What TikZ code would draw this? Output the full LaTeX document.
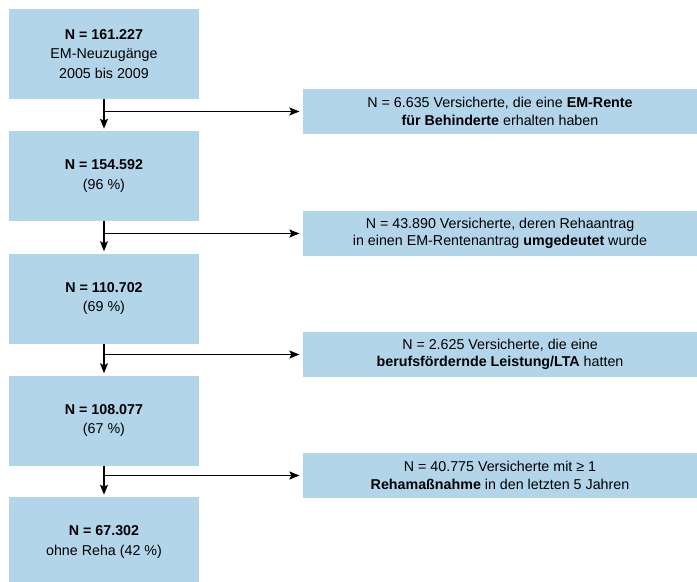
\documentclass[tikz,border=0pt]{standalone}
\usepackage{fontspec}
\setmainfont{Liberation Sans}
\usetikzlibrary{arrows.meta}
\definecolor{rehablau}{RGB}{179,213,234}
\begin{document}
\begin{tikzpicture}[x=0.75pt, y=-0.75pt,
	>={Stealth[length=7.5pt,width=6pt,inset=1.5pt]},
	box/.style={fill=rehablau, minimum width=142.5pt, minimum height=67.5pt, inner sep=0pt, align=center, font=\fontsize{10.7}{14.4}\selectfont},
	info/.style={fill=rehablau, minimum width=295.5pt, minimum height=33.75pt, inner sep=0pt, align=center, font=\fontsize{10.7}{13}\selectfont},
	pfeil/.style={->, line width=0.9pt, shorten >=1.5pt}]
	\useasboundingbox (0,0) rectangle (697,582);
	% linke Spalte
	\node[box] (n1) at (104,54) {\textbf{N = 161.227}\\EM-Neuzugänge\\2005 bis 2009};
	\node[box] (n2) at (104,176) {\textbf{N = 154.592}\\(96 \%)};
	\node[box] (n3) at (104,298.5) {\textbf{N = 110.702}\\(69 \%)};
	\node[box] (n4) at (104,420.5) {\textbf{N = 108.077}\\(67 \%)};
	\node[box] (n5) at (104,542) {\textbf{N = 67.302}\\ohne Reha (42 \%)};
	% rechte Spalte
	\node[info] (r1) at (500,111.5) {N = 6.635 Versicherte, die eine \textbf{EM-Rente}\\\textbf{für Behinderte} erhalten haben};
	\node[info] (r2) at (500,233.5) {N = 43.890 Versicherte, deren Rehaantrag\\in einen EM-Rentenantrag \textbf{umgedeutet} wurde};
	\node[info] (r3) at (500,354.5) {N = 2.625 Versicherte, die eine\\\textbf{berufsfördernde Leistung/LTA} hatten};
	\node[info] (r4) at (500,475.5) {N = 40.775 Versicherte mit ≥ 1\\\textbf{Rehamaßnahme} in den letzten 5 Jahren};
	% Pfeile
	\draw[pfeil] (n1) -- (n2);
	\draw[pfeil] (n2) -- (n3);
	\draw[pfeil] (n3) -- (n4);
	\draw[pfeil] (n4) -- (n5);
	\draw[pfeil, shorten >=2.5pt] (n1.south |- r1) -- (r1);
	\draw[pfeil, shorten >=2.5pt] (n2.south |- r2) -- (r2);
	\draw[pfeil, shorten >=2.5pt] (n3.south |- r3) -- (r3);
	\draw[pfeil, shorten >=2.5pt] (n4.south |- r4) -- (r4);
\end{tikzpicture}
\end{document}
